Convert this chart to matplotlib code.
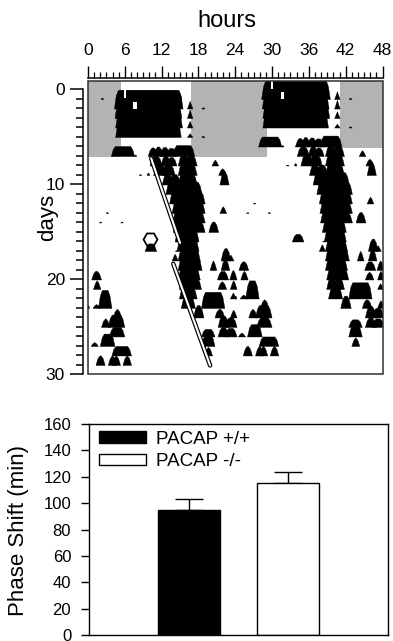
import numpy as np
import matplotlib
matplotlib.use('Agg')
import matplotlib.pyplot as plt
from matplotlib.patches import Rectangle
from matplotlib.ticker import MultipleLocator

plt.rcParams['font.family'] = ['Liberation Sans', 'DejaVu Sans']

# wheel running bouts: (day, onset h, offset h, height in rows)
bouts = [
    (0, 2.2, 2.5, 0.15), (0, 4.8, 15.0, 0.95),
    (1, 4.6, 15.2, 1.95), (1, 16.5, 16.8, 0.8), (1, 18.6, 19.0, 0.12),
    (2, 4.7, 15.0, 1.9), (2, 16.5, 16.8, 0.9),
    (3, 4.8, 15.1, 1.9), (3, 16.5, 16.8, 0.7),
    (4, 4.8, 14.9, 1.9), (4, 16.5, 16.8, 0.4), (4, 18.6, 19.0, 0.12),
    (6, 4.1, 7.3, 1.05), (6, 7.6, 7.9, 0.15), (6, 10.1, 11.1, 0.9), (6, 11.0, 12.0, 1.0),
    (6, 12.0, 13.1, 0.95), (6, 13.0, 14.2, 0.85), (6, 14.1, 17.1, 1.15),
    (7, 10.4, 11.8, 1.0), (7, 12.2, 13.2, 1.1), (7, 13.1, 14.2, 0.9), (7, 15.0, 16.2, 1.2),
    (7, 16.0, 17.5, 1.1), (7, 20.5, 21.0, 0.6),
    (8, 8.4, 8.7, 0.1), (8, 9.7, 10.0, 0.25), (8, 11.0, 12.4, 1.2), (8, 12.3, 13.9, 1.1),
    (8, 15.0, 16.3, 1.3), (8, 16.2, 17.5, 1.2), (8, 21.6, 22.3, 0.7),
    (9, 12.4, 13.6, 1.2), (9, 13.5, 14.8, 1.1), (9, 15.0, 16.2, 1.3), (9, 16.1, 17.5, 1.2),
    (9, 21.8, 22.7, 1.4),
    (10, 13.0, 14.6, 1.4), (10, 14.5, 16.2, 1.4), (10, 16.0, 18.3, 1.3),
    (11, 13.6, 15.2, 1.5), (11, 15.0, 16.8, 1.4), (11, 16.6, 18.8, 1.3),
    (12, 3.0, 3.3, 0.1), (12, 14.0, 15.6, 1.4), (12, 15.4, 17.0, 1.5), (12, 16.8, 18.8, 1.3),
    (12, 21.8, 22.3, 0.7),
    (13, 1.9, 2.2, 0.1), (13, 5.4, 5.7, 0.1), (13, 14.1, 15.8, 1.4), (13, 15.6, 17.2, 1.4),
    (13, 17.0, 18.8, 1.2),
    (14, 14.2, 16.0, 1.4), (14, 15.8, 17.4, 1.4), (14, 17.2, 18.8, 1.1), (14, 20.0, 21.0, 1.1),
    (15, 14.5, 16.2, 1.4), (15, 16.0, 17.8, 1.4),
    (16, 9.6, 10.9, 0.8), (16, 14.3, 14.5, 0.1), (16, 14.8, 16.4, 1.4), (16, 16.2, 17.8, 1.4),
    (17, 14.0, 14.4, 0.7), (17, 15.0, 16.6, 1.4), (17, 16.4, 18.0, 1.4), (17, 22.0, 23.0, 1.3),
    (17, 23.1, 23.5, 0.6),
    (18, 15.0, 16.6, 1.5), (18, 16.4, 18.3, 1.4), (18, 20.2, 20.7, 1.0), (18, 22.0, 22.8, 1.2),
    (19, 0.9, 1.9, 0.9), (19, 15.0, 16.5, 1.4), (19, 16.3, 18.0, 1.3), (19, 21.4, 22.6, 0.9),
    (19, 23.4, 24.0, 1.0),
    (20, 1.2, 1.8, 0.9), (20, 15.2, 16.7, 1.3), (20, 16.5, 18.2, 1.2), (20, 21.5, 22.3, 0.8),
    (20, 23.5, 24.0, 0.9),
    (21, 15.2, 16.3, 1.3), (21, 16.2, 17.5, 1.2), (21, 23.5, 23.9, 0.6),
    (22, 0.0, 0.2, 0.3), (22, 1.1, 1.7, 0.4), (22, 2.0, 3.6, 1.9), (22, 15.5, 17.2, 1.3),
    (22, 18.8, 22.0, 1.7),
    (23, 4.4, 5.2, 0.9), (23, 17.5, 18.6, 1.3), (23, 21.0, 22.0, 0.9), (23, 23.5, 24.0, 0.8),
    (24, 2.5, 3.3, 0.9), (24, 3.6, 5.7, 1.3), (24, 21.5, 22.7, 1.2), (24, 22.6, 24.0, 1.0),
    (25, 3.8, 5.7, 1.0), (25, 18.8, 20.4, 0.8), (25, 21.5, 22.7, 1.0), (25, 22.6, 24.0, 0.9),
    (26, 0.8, 1.4, 0.4), (26, 2.3, 4.1, 1.3), (26, 18.8, 20.4, 1.2),
    (27, 4.2, 6.8, 1.0), (27, 19.3, 20.0, 0.9),
    (28, 1.6, 2.5, 1.0), (28, 3.6, 4.4, 1.0), (28, 4.2, 5.0, 1.0), (28, 6.0, 6.8, 1.0),
]
# quiet spells inside the big block: (day, start h, end h, low, high above baseline)
gaps = [(1, 5.8, 6.2, 1.15, 1.95), (1, 7.4, 8.0, 0.05, 0.75)]

# light phase shading (start h, end h, last day) on the 48 h axis
light = [(0.0, 5.4, 7.2), (16.8, 29.2, 7.2), (41.0, 48.0, 6.2)]

# eye-fitted onset lines before / after the pulse
line1_x, line1_y = [10.3, 15.0], [7.3, 16.2]
line2_x, line2_y = [13.9, 19.9], [18.4, 29.1]
pulse_h, pulse_day = 10.1, 15.8

n_left, n_right = 29, 28

groups = ['PACAP +/+', 'PACAP -/-']
shift = [94.5, 115.5]
sem = [8.5, 8.0]


def bout_poly(on, off, h, base):
    w = off - on
    s = 0.3 if h > 0.3 else 0.05
    f = min(0.35, w * 0.45)
    xs = [on - s, on + 0.02, on + f, off - f, off - 0.02, off + s]
    ys = [base, base - 0.7 * h, base - h, base - h, base - 0.7 * h, base]
    return xs, ys


fig = plt.figure(figsize=(3.93, 6.41), dpi=100)

# ---- actogram
ax = fig.add_axes([88 / 393, 1 - 374 / 641, 294.5 / 393, 293 / 641])
ax.set_xlim(0, 48)
ax.set_ylim(30, -0.85)

for h0, h1, dlast in light:
    ax.add_patch(Rectangle((h0, -1), h1 - h0, dlast + 1, fc='#b3b3b3', ec='none', zorder=1))

ax.plot(pulse_h, pulse_day, marker='H', ms=10, mfc='white', mec='black', mew=1.3, zorder=2)

for day, on, off, h in bouts:
    rows = []
    if day < n_left:
        rows.append((day, 0))
    if 1 <= day <= n_right:
        rows.append((day - 1, 24))
    for r, off24 in rows:
        base = r + 1.1
        xs, ys = bout_poly(on + off24, off + off24, h, base)
        ax.fill(xs, ys, color='black', lw=0.3, zorder=3)

for day, on, off, lo, hi in gaps:
    for r, off24 in [(day, 0), (day - 1, 24)]:
        base = r + 1.1
        ax.add_patch(Rectangle((on + off24, base - hi), off - on, hi - lo, fc='white', ec='none', zorder=4))

for lx, ly in [(line1_x, line1_y), (line2_x, line2_y)]:
    ax.plot(lx, ly, color='black', lw=3.2, solid_capstyle='round', zorder=5)
    ax.plot(lx, ly, color='white', lw=1.5, solid_capstyle='round', zorder=6)

ax.add_patch(Rectangle((0, 0), 1, 1, transform=ax.transAxes, fill=False, ec='#303030', lw=1.1,
                       clip_on=False, zorder=7))
for s in ['right', 'bottom']:
    ax.spines[s].set_visible(False)
ax.spines['top'].set_position(('outward', 2.2))
ax.spines['left'].set_position(('outward', 3.6))
ax.spines['left'].set_bounds(0, 30)
ax.spines['top'].set_linewidth(1.1)
ax.spines['left'].set_linewidth(1.1)

ax.xaxis.tick_top()
ax.set_xticks(np.arange(0, 49, 6))
ax.xaxis.set_minor_locator(MultipleLocator(1))
ax.set_yticks([0, 10, 20, 30])
ax.yaxis.set_minor_locator(MultipleLocator(1))
ax.tick_params(axis='x', which='major', length=8.6, width=1, pad=5.5, labelsize=12.5)
ax.tick_params(axis='x', which='minor', length=4.3, width=0.9)
ax.tick_params(axis='y', which='major', length=9.4, width=1.1, pad=3.5, labelsize=12.5)
ax.tick_params(axis='y', which='minor', length=5, width=1.1)

fig.text(227 / 393, 1 - 21 / 641, 'hours', ha='center', va='center', fontsize=17)
fig.text(48 / 393, 1 - 217 / 641, 'days', ha='center', va='center', rotation=90, fontsize=16)

# ---- phase shift bars
bx = fig.add_axes([89 / 393, 6 / 641, 299 / 393, 211 / 641])
pos = [1, 2]
bx.bar(pos[0], shift[0], 0.62, color='black', ec='black', lw=1, label=groups[0], zorder=2)
bx.bar(pos[1], shift[1], 0.62, color='white', ec='black', lw=1, label=groups[1], zorder=2)
bx.errorbar(pos, shift, yerr=[[0, 0], sem], fmt='none', ecolor='black', elinewidth=1,
            capsize=10, capthick=1, zorder=1)
bx.set_xlim(0, 3)
bx.set_ylim(0, 160)
bx.set_yticks(np.arange(0, 161, 20))
bx.set_xticks([])
bx.tick_params(axis='y', length=5.8, width=1, pad=7, labelsize=12)
for s in bx.spines.values():
    s.set_linewidth(1)

bx.legend(loc='upper left', bbox_to_anchor=(0.035, 0.968), frameon=False, fontsize=13.5,
          handlelength=2.5, handleheight=0.55, handletextpad=0.5, labelspacing=0.3,
          borderpad=0, borderaxespad=0)

fig.text(19 / 393, 1 - 530 / 641, 'Phase Shift (min)', ha='center', va='center', rotation=90,
         fontsize=16)

fig.savefig('out.png', dpi=100)
